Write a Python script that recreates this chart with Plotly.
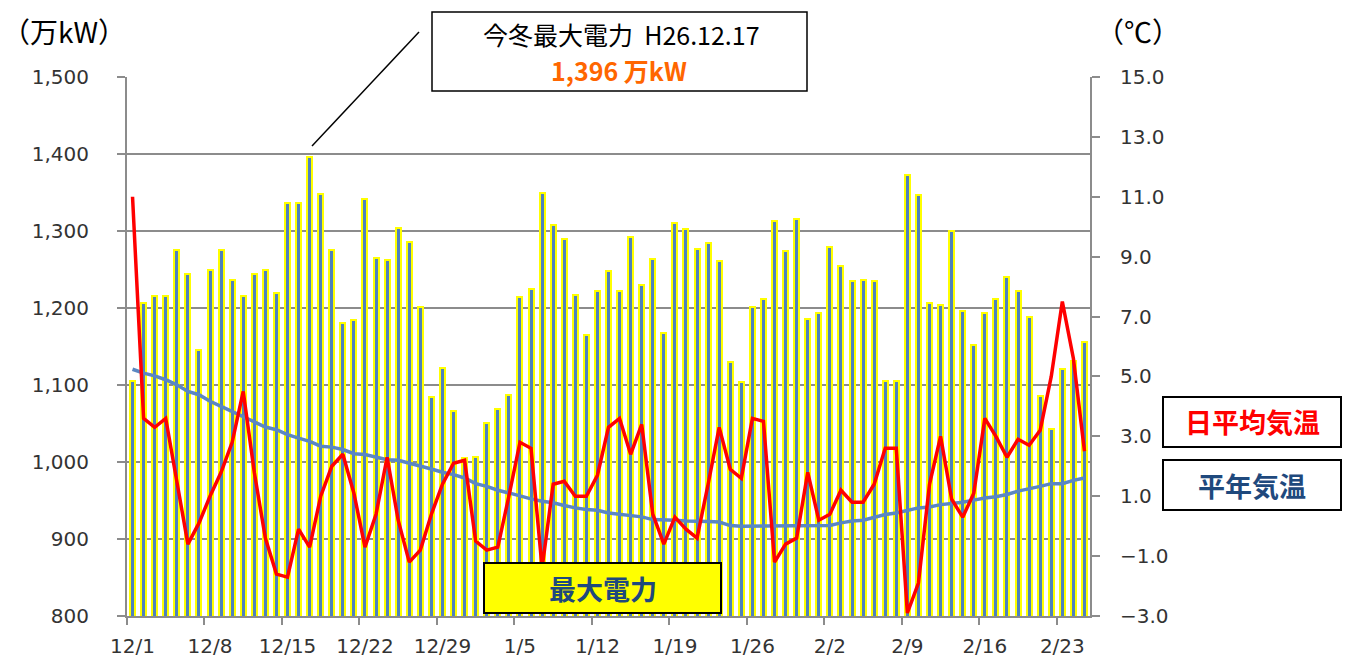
import pandas as pd
import plotly.graph_objects as go

# ---------------- data ----------------
dates = [f"{d.month}/{d.day}" for d in pd.date_range("2014-12-01", "2015-02-25")]

max_power = [
    1105, 1207, 1215, 1215, 1275, 1244, 1145, 1250, 1275, 1237, 1215, 1244, 1250, 1219,
    1337, 1337, 1396, 1348, 1275, 1180, 1185, 1342, 1265, 1262, 1304, 1286, 1201, 1084,
    1122, 1066, 1005,
    1007, 1051, 1069, 1087, 1214, 1225, 1349, 1308, 1290, 1217, 1165, 1222, 1248, 1222,
    1292, 1230, 1264, 1168, 1310, 1303, 1277, 1285, 1261, 1130, 1104, 1201, 1212, 1313,
    1274, 1316, 1186,
    1193, 1279, 1255, 1235, 1237, 1235, 1105, 1105, 1373, 1347, 1207, 1204, 1300, 1196,
    1152, 1193, 1212, 1240, 1222, 1188, 1086, 1043, 1121, 1131, 1156,
]

daily_temp = [
    11.0, 3.6, 3.3, 3.6, 1.5, -0.6, 0.1, 1.0, 1.8, 2.8, 4.5, 1.8, -0.4, -1.6,
    -1.7, -0.1, -0.7, 1.0, 2.0, 2.4, 1.1, -0.7, 0.4, 2.3, 0.2, -1.2, -0.8, 0.4,
    1.4, 2.1, 2.2,
    -0.5, -0.8, -0.7, 1.0, 2.8, 2.6, -1.4, 1.4, 1.5, 1.0, 1.0, 1.7, 3.3, 3.6,
    2.4, 3.4, 0.4, -0.6, 0.3, -0.1, -0.4, 1.4, 3.3, 1.9, 1.6, 3.6, 3.5, -1.2,
    -0.6, -0.4, 1.8,
    0.2, 0.4, 1.2, 0.8, 0.8, 1.4, 2.6, 2.6, -2.9, -1.9, 1.4, 3.0, 0.9, 0.3,
    1.1, 3.6, 3.0, 2.3, 2.9, 2.7, 3.2, 5.0, 7.5, 5.6, 2.5,
]

normal_temp = [
    5.24, 5.11, 5.02, 4.89, 4.72, 4.50, 4.39, 4.17, 4.00, 3.83, 3.67, 3.50, 3.31, 3.22,
    3.06, 2.94, 2.83, 2.67, 2.64, 2.56, 2.42, 2.39, 2.31, 2.22, 2.20, 2.11, 2.02, 1.91,
    1.80, 1.72, 1.61,
    1.42, 1.33, 1.20, 1.11, 1.00, 0.91, 0.83, 0.78, 0.69, 0.61, 0.56, 0.53, 0.44, 0.39,
    0.36, 0.31, 0.22, 0.22, 0.20, 0.17, 0.17, 0.16, 0.14, 0.02, 0.00, 0.00, 0.00, 0.00,
    0.00, 0.00, 0.00,
    0.00, 0.02, 0.11, 0.17, 0.20, 0.31, 0.39, 0.44, 0.53, 0.61, 0.64, 0.72, 0.76, 0.80,
    0.87, 0.94, 0.98, 1.06, 1.17, 1.24, 1.33, 1.42, 1.42, 1.53, 1.61,
]

tick_labels = ["12/1", "12/8", "12/15", "12/22", "12/29", "1/5", "1/12",
               "1/19", "1/26", "2/2", "2/9", "2/16", "2/23"]

peak_title = "今冬最大電力  H26.12.17"
peak_value = "1,396 万kW"

# ---------------- layout helpers ----------------
W, H = 1350, 660
L, R, T, B = 127, 1090, 77, 616   # plot area in pixels


def px(x):
    return (x - L) / (R - L)


def py(y):
    return (B - y) / (B - T)


idx = list(range(len(dates)))
tick_idx = [dates.index(t) for t in tick_labels]

GRAY = "#8c8c8c"
NUMFONT = dict(family="DejaVu Sans", size=20, color="#333333")
JP = "Noto Sans CJK JP"

fig = go.Figure()

fig.add_trace(go.Bar(
    x=idx, y=max_power, width=0.45,
    marker=dict(color="#4F81BD", line=dict(color="#FFFF00", width=2)),
    showlegend=False, hoverinfo="skip",
))
fig.add_trace(go.Scatter(
    x=idx, y=normal_temp, yaxis="y2", mode="lines",
    line=dict(color="#5B87C2", width=3.5), showlegend=False,
))
fig.add_trace(go.Scatter(
    x=idx, y=daily_temp, yaxis="y2", mode="lines",
    line=dict(color="#FF0000", width=3.5), showlegend=False,
))
# helper trace so the boundary-tick axis is rendered
fig.add_trace(go.Scatter(
    x=[idx[0]], y=[None], xaxis="x2", mode="markers",
    marker=dict(opacity=0), showlegend=False, hoverinfo="skip",
))

fig.update_layout(
    width=W, height=H, autosize=False,
    margin=dict(l=L, r=W - R, t=T, b=H - B, pad=0),
    paper_bgcolor="white", plot_bgcolor="white",
    bargap=0,
    xaxis=dict(
        range=[-0.5, len(dates) - 0.5], tickmode="array",
        tickvals=tick_idx, ticktext=tick_labels, ticks="",
        showgrid=False, zeroline=False, automargin=False,
        showline=True, linecolor=GRAY, linewidth=2,
        tickfont=NUMFONT, ticklabelstandoff=11,
    ),
    xaxis2=dict(
        overlaying="x", anchor="y", side="bottom", automargin=False,
        range=[-0.5, len(dates) - 0.5], tickmode="array",
        tickvals=[i - 0.5 for i in tick_idx], ticks="outside",
        ticklen=8, tickwidth=1.5, tickcolor=GRAY,
        showticklabels=False, showgrid=False, zeroline=False, showline=False,
    ),
    yaxis=dict(
        range=[800, 1500], dtick=100, tickformat=",d", automargin=False,
        showgrid=True, gridcolor=GRAY, gridwidth=1.5, zeroline=False,
        showline=True, linecolor=GRAY, linewidth=2,
        ticks="outside", ticklen=8, tickwidth=1.5, tickcolor=GRAY,
        tickfont=NUMFONT, ticklabelstandoff=24,
    ),
    yaxis2=dict(
        range=[-3, 15], dtick=2, tick0=-3, tickformat=".1f", automargin=False,
        overlaying="y", side="right", anchor="x",
        showgrid=False, zeroline=False,
        showline=True, linecolor=GRAY, linewidth=2,
        ticks="outside", ticklen=8, tickwidth=1.5, tickcolor=GRAY,
        tickfont=NUMFONT, ticklabelstandoff=16,
    ),
)

shapes = []
annos = []

# axis unit titles
annos.append(dict(xref="paper", yref="paper", x=px(0), y=py(31), xanchor="left",
                  yanchor="middle", text="（万kW）", showarrow=False,
                  font=dict(family=JP, size=28, color="#000000")))
annos.append(dict(xref="paper", yref="paper", x=px(1094), y=py(31), xanchor="left",
                  yanchor="middle", text="（℃）", showarrow=False,
                  font=dict(family=JP, size=28, color="#000000")))

# peak callout
shapes.append(dict(type="line", xref="paper", yref="paper", layer="above",
                   x0=px(312), y0=py(146), x1=px(419), y1=py(32),
                   line=dict(color="#000000", width=1.5)))
shapes.append(dict(type="rect", xref="paper", yref="paper", layer="above",
                   x0=px(432), y0=py(91), x1=px(807), y1=py(12),
                   fillcolor="white", line=dict(color="#000000", width=1.5)))
annos.append(dict(xref="paper", yref="paper", x=px(621), y=py(34), xanchor="center",
                  yanchor="middle", text=peak_title, showarrow=False,
                  font=dict(family=JP, size=25, color="#000000")))
annos.append(dict(xref="paper", yref="paper", x=px(619), y=py(70), xanchor="center",
                  yanchor="middle", text=f"<b>{peak_value}</b>", showarrow=False,
                  font=dict(family=JP, size=25, color="#FF6600")))

# legend boxes
legend_items = [
    ("日平均気温", "#FF0000", "white", 1163, 397, 1341, 447),
    ("平年気温", "#1F497D", "white", 1163, 460, 1341, 510),
    ("最大電力", "#1F497D", "#FFFF00", 484, 563, 721, 613),
]
for text, color, fill, x0, y0, x1, y1 in legend_items:
    shapes.append(dict(type="rect", xref="paper", yref="paper", layer="above",
                       x0=px(x0), y0=py(y1), x1=px(x1), y1=py(y0),
                       fillcolor=fill, line=dict(color="#000000", width=2)))
    annos.append(dict(xref="paper", yref="paper", x=px((x0 + x1) / 2),
                      y=py((y0 + y1) / 2), xanchor="center", yanchor="middle",
                      text=f"<b>{text}</b>", showarrow=False,
                      font=dict(family=JP, size=27, color=color)))

fig.update_layout(shapes=shapes, annotations=annos)

fig.write_html("out.html", config={"displayModeBar": False},
               post_script="document.body.style.margin='0px';")
